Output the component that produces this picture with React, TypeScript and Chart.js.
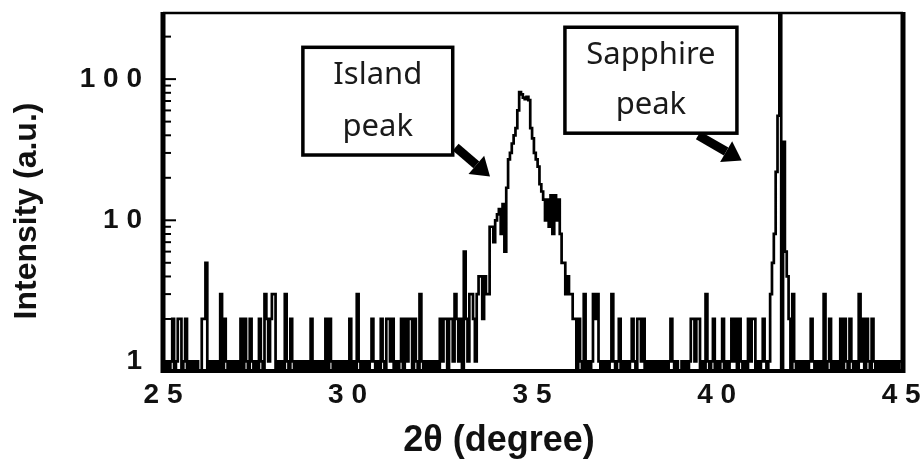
import { useEffect, useRef } from "react";
import { Chart, registerables } from "chart.js";

Chart.register(...registerables);

// 2θ grid of the scan
const START_ANGLE = 25;
const STEP = 0.05;

// counts, 25.00° – 33.80°
const noiseLow = [
  1, 0, 1, 0, 1, 2, 0, 1, 2, 2, 0, 1, 2, 0, 1, 0, 1, 0, 1, 0,
  0, 2, 2, 5, 0, 1, 0, 1, 0, 1, 0, 3, 0, 2, 1, 0, 1, 0, 1, 0,
  1, 0, 2, 0, 2, 1, 0, 2, 1, 0, 1, 0, 2, 1, 0, 3, 2, 1, 2, 3,
  3, 0, 1, 0, 1, 0, 3, 1, 0, 2, 1, 0, 1, 0, 1, 0, 1, 0, 1, 0,
  2, 0, 1, 0, 1, 0, 1, 0, 2, 0, 2, 1, 0, 1, 0, 1, 0, 1, 0, 1,
  0, 2, 0, 1, 0, 3, 1, 0, 1, 0, 1, 0, 1, 2, 1, 0, 1, 0, 2, 1,
  0, 2, 2, 1, 2, 0, 1, 0, 1, 2, 0, 2, 1, 2, 2, 0, 2, 1, 0, 3,
  1, 0, 1, 0, 1, 0, 1, 0, 1, 0, 2, 1, 2, 2, 0, 2, 2, 1, 3, 2,
  1, 2, 0, 6, 2, 1, 3, 3, 2, 1, 3, 4, 4, 2, 4, 3, 3,
];

// counts, 33.85° – 36.25° (island peak)
const islandPeak = [
  9, 9, 7,
  10, 11, 12, 8, 13, 6, 17, 27, 30, 35, 40, 45, 60, 81, 78, 74, 72, 75, 71, 45,
  38, 30, 27, 24, 18, 16, 14, 10, 14, 9, 15, 8, 15, 10, 14, 8, 5, 5, 3, 4,
  3, 3, 2, 2, 0, 2,
];

// counts, 36.30° – 41.40°
const noiseMid = [
  1, 0, 3, 0, 1, 0, 1, 3, 2, 3, 1, 0, 1, 0,
  1, 0, 1, 3, 1, 0, 1, 2, 0, 1, 0, 1, 0, 1, 2, 1, 0, 2, 2, 1,
  2, 0, 1, 0, 1, 0, 1, 0, 1, 0, 1, 0, 1, 0, 1, 2, 1, 0, 1, 0,
  0, 1, 0, 1, 0, 1, 2, 2, 1, 2, 2, 0, 1, 0, 3, 1, 0, 1, 2, 0,
  1, 0, 1, 2, 0, 1, 0, 1, 2, 1, 2, 0, 2, 1, 0, 1, 0, 2, 1, 2,
  2, 0, 1, 0, 1, 2, 1, 0, 1,
];

// counts, 41.45° – 41.95° (sapphire peak, top is off scale)
const sapphirePeak = [3, 5, 8, 22, 55, 1500, 0, 36, 6, 4, 2];

// counts, 42.00° – 45.00°
const noiseHigh = [
  0, 3, 1, 0, 1, 0, 1, 0, 1, 0, 1, 2, 1, 0, 1, 0, 1, 0, 3, 0,
  1, 2, 0, 1, 0, 1, 0, 2, 0, 2, 1, 0, 2, 1, 0, 1, 0, 3, 1, 2,
  0, 2, 1, 0, 2, 1, 0, 1, 0, 1, 0, 1, 0, 1, 0, 1, 0, 1, 0, 1,
  1,
];

// zero counts cannot sit on a log axis: they are drawn at this floor, below the axis minimum
const ZERO_FLOOR = 0.5;

const xTicks = [25, 30, 35, 40, 45];
const yTicks = [1, 10, 100];
const yMinorTicks = [2, 3, 4, 5, 6, 7, 8, 9, 20, 30, 40, 50, 60, 70, 80, 90, 200];

const annotations = [
  { lines: ["Island", "peak"], x0: 28.79, x1: 32.85, yTop: 168, yBottom: 29, from: [32.93, 33], to: [33.86, 20.4] },
  { lines: ["Sapphire", "peak"], x0: 35.89, x1: 40.55, yTop: 233, yBottom: 41.4, from: [39.5, 40], to: [40.68, 26.5] },
];

const spaced = (v: number) => String(v).split("").join(" ");

const TICK_FONT = { family: "'Liberation Sans', Arial, sans-serif", size: 28, weight: "bold" as const };

const framePlugin = {
  id: "frameTicks",
  afterDatasetsDraw(chart: any) {
    const { ctx, chartArea: a, scales } = chart;
    const y = scales.y;
    const seg = (x0: number, y0: number, x1: number, y1: number) => {
      ctx.beginPath();
      ctx.moveTo(x0, y0);
      ctx.lineTo(x1, y1);
      ctx.stroke();
    };
    ctx.save();
    ctx.strokeStyle = "#000";
    ctx.lineWidth = 2;
    for (const v of yMinorTicks) {
      const py = y.getPixelForValue(v);
      if (py < a.top || py > a.bottom) continue;
      seg(a.left, py, a.left + 8, py);
    }
    for (const v of yTicks) {
      const py = y.getPixelForValue(v);
      seg(a.left, py, a.left + 13, py);
    }
    ctx.lineWidth = 2.5;
    seg(a.left, a.top, a.right, a.top);
    ctx.lineWidth = 4;
    seg(a.left - 2, a.bottom, a.right + 2, a.bottom);
    ctx.lineWidth = 5;
    seg(a.left, a.top - 1, a.left, a.bottom + 2);
    seg(a.right, a.top - 1, a.right, a.bottom + 2);
    ctx.restore();
  },
};

const annotationPlugin = {
  id: "peakNotes",
  afterDraw(chart: any) {
    const { ctx, scales } = chart;
    const X = (v: number) => scales.x.getPixelForValue(v);
    const Y = (v: number) => scales.y.getPixelForValue(v);
    ctx.save();
    for (const n of annotations) {
      const l = X(n.x0), r = X(n.x1), t = Y(n.yTop), b = Y(n.yBottom);
      // arrow
      const x0 = X(n.from[0]), y0 = Y(n.from[1]), x1 = X(n.to[0]), y1 = Y(n.to[1]);
      const ang = Math.atan2(y1 - y0, x1 - x0);
      const head = 18, hw = 12;
      const bx = x1 - head * Math.cos(ang), by = y1 - head * Math.sin(ang);
      ctx.strokeStyle = "#000";
      ctx.fillStyle = "#000";
      ctx.lineWidth = 9;
      ctx.beginPath();
      ctx.moveTo(x0, y0);
      ctx.lineTo(bx, by);
      ctx.stroke();
      ctx.beginPath();
      ctx.moveTo(x1, y1);
      ctx.lineTo(bx - hw * Math.sin(ang), by + hw * Math.cos(ang));
      ctx.lineTo(bx + hw * Math.sin(ang), by - hw * Math.cos(ang));
      ctx.closePath();
      ctx.fill();
      // box
      ctx.fillStyle = "#fff";
      ctx.fillRect(l, t, r - l, b - t);
      ctx.lineWidth = 3.5;
      ctx.strokeRect(l, t, r - l, b - t);
      ctx.fillStyle = "#1a1a1a";
      ctx.font = "31px 'Noto Sans', 'Open Sans', sans-serif";
      ctx.textAlign = "center";
      ctx.textBaseline = "middle";
      const cx = (l + r) / 2, h = b - t;
      ctx.fillText(n.lines[0], cx, t + h * 0.26);
      ctx.fillText(n.lines[1], cx, t + h * 0.74);
    }
    // axis titles
    ctx.fillStyle = "#111";
    ctx.textAlign = "center";
    ctx.textBaseline = "middle";
    ctx.font = "bold 36px 'Liberation Sans', Arial, sans-serif";
    ctx.fillText("2θ (degree)", 499, 441);
    ctx.translate(27, 211);
    ctx.rotate(-Math.PI / 2);
    ctx.font = "bold 32px 'Liberation Sans', Arial, sans-serif";
    ctx.fillText("Intensity (a.u.)", 0, 0);
    ctx.restore();
  },
};

export default function App() {
  const ref = useRef<HTMLCanvasElement | null>(null);

  useEffect(() => {
    if (!ref.current) return;
    const counts = [...noiseLow, ...islandPeak, ...noiseMid, ...sapphirePeak, ...noiseHigh];
    const points = counts.map((c, i) => ({ x: START_ANGLE + i * STEP, y: c === 0 ? ZERO_FLOOR : c }));
    const chart = new Chart(ref.current, {
      type: "line",
      data: {
        datasets: [
          {
            data: points,
            borderColor: "#000",
            borderWidth: 2.7,
            pointRadius: 0,
            stepped: true,
            fill: false,
          },
        ],
      },
      options: {
        animation: false,
        responsive: false,
        layout: { padding: { left: 0, top: 13, right: 21, bottom: 0 } },
        plugins: { legend: { display: false }, tooltip: { enabled: false } },
        scales: {
          x: {
            type: "linear",
            min: 25,
            max: 45.05,
            afterBuildTicks: (s: any) => {
              s.ticks = xTicks.map((v) => ({ value: v }));
            },
            afterFit: (s: any) => {
              s.height = 91;
              s.paddingLeft = 0;
              s.paddingRight = 0;
              s.paddingTop = 0;
              s.paddingBottom = 0;
            },
            grid: { display: false, drawTicks: false },
            border: { display: false },
            ticks: {
              maxRotation: 0,
              autoSkip: false,
              padding: 7,
              color: "#111",
              font: TICK_FONT,
              callback: (v: any) => spaced(Number(v)),
            },
          },
          y: {
            type: "logarithmic",
            min: 0.856,
            max: 294,
            afterBuildTicks: (s: any) => {
              s.ticks = yTicks.map((v) => ({ value: v }));
            },
            afterFit: (s: any) => {
              s.width = 163;
              s.paddingLeft = 0;
              s.paddingRight = 0;
              s.paddingTop = 0;
              s.paddingBottom = 0;
            },
            grid: { display: false, drawTicks: false },
            border: { display: false },
            ticks: {
              autoSkip: false,
              padding: 21,
              color: "#111",
              font: TICK_FONT,
              callback: (v: any) => spaced(Number(v)),
            },
          },
        },
      },
      plugins: [framePlugin, annotationPlugin],
    });
    return () => chart.destroy();
  }, []);

  return (
    <div style={{ position: "fixed", left: 0, top: 0, width: 924, height: 462, background: "#fff" }}>
      <canvas ref={ref} width={924} height={462} style={{ display: "block" }} />
    </div>
  );
}
